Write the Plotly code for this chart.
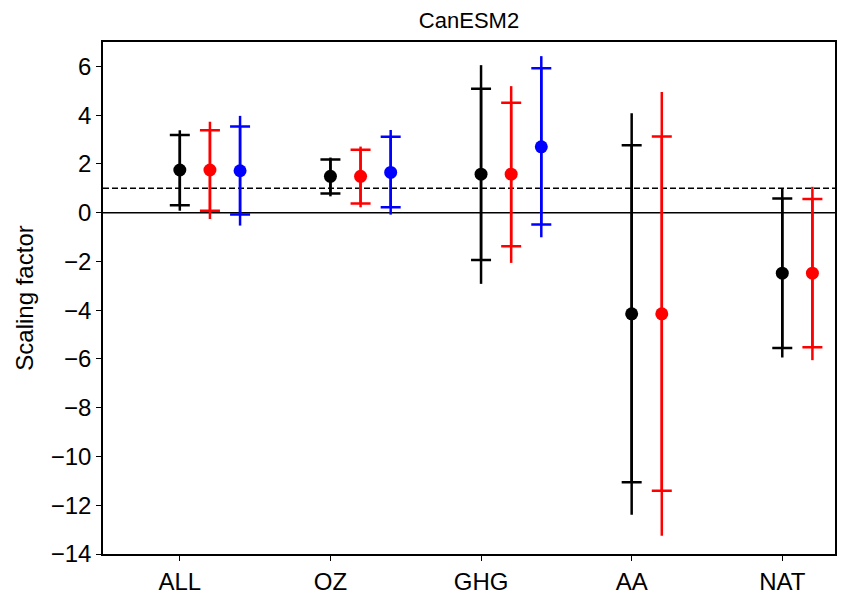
import plotly.graph_objects as go

categories = ["ALL", "OZ", "GHG", "AA", "NAT"]
colors = ["black", "red", "blue"]
offsets = [0.0, 0.2, 0.4]

# per series: best estimate, inner range (caps), outer range (line ends)
best = [
    [1.75, 1.49, 1.58, -4.15, -2.48],
    [1.75, 1.49, 1.58, -4.15, -2.48],
    [1.72, 1.65, 2.70, None, None],
]
inner_hi = [
    [3.19, 2.18, 5.08, 2.77, 0.58],
    [3.38, 2.58, 4.51, 3.12, 0.56],
    [3.53, 3.11, 5.92, None, None],
]
inner_lo = [
    [0.30, 0.79, -1.94, -11.06, -5.55],
    [0.08, 0.38, -1.38, -11.41, -5.52],
    [-0.08, 0.22, -0.49, None, None],
]
outer_hi = [
    [3.38, 2.26, 6.05, 4.08, 0.97],
    [3.73, 2.71, 5.19, 4.95, 1.06],
    [3.97, 3.39, 6.42, None, None],
]
outer_lo = [
    [0.08, 0.67, -2.92, -12.39, -5.94],
    [-0.26, 0.22, -2.06, -13.25, -6.05],
    [-0.53, -0.08, -1.01, None, None],
]

FONT = "Liberation Sans, Arial, sans-serif"

fig = go.Figure()
for s in range(3):
    xs, ys, ihp, ilm, ohp, olm = [], [], [], [], [], []
    for i in range(len(categories)):
        if best[s][i] is None:
            continue
        xs.append(i + offsets[s])
        ys.append(best[s][i])
        ihp.append(inner_hi[s][i] - best[s][i])
        ilm.append(best[s][i] - inner_lo[s][i])
        ohp.append(outer_hi[s][i] - best[s][i])
        olm.append(best[s][i] - outer_lo[s][i])
    c = colors[s]
    fig.add_trace(go.Scatter(
        x=xs, y=ys, mode="markers", marker=dict(size=0.1, color=c, opacity=0),
        error_y=dict(type="data", symmetric=False, array=ohp, arrayminus=olm,
                     color=c, thickness=2.5, width=0),
        showlegend=False, hoverinfo="skip"))
    fig.add_trace(go.Scatter(
        x=xs, y=ys, mode="markers", marker=dict(size=13, color=c),
        error_y=dict(type="data", symmetric=False, array=ihp, arrayminus=ilm,
                     color=c, thickness=2.5, width=10),
        showlegend=False))

fig.add_shape(type="line", xref="paper", yref="y", x0=0, x1=1, y0=0, y1=0,
              line=dict(color="black", width=1.5), layer="below")
fig.add_shape(type="line", xref="paper", yref="y", x0=0, x1=1, y0=1, y1=1,
              line=dict(color="black", width=1.5, dash="6px,3px"), layer="below")

fig.update_layout(
    width=847, height=594,
    margin=dict(l=103, r=12, t=42, b=40),
    paper_bgcolor="white", plot_bgcolor="white",
    font=dict(family=FONT, size=24, color="black"),
    title=dict(text="CanESM2", x=0.5, xanchor="center", xref="paper",
               y=1 - 20 / 594, yanchor="middle",
               font=dict(size=22, family=FONT, color="black")),
    xaxis=dict(range=[-0.51, 4.35], tickmode="array", tickvals=list(range(len(categories))),
               ticktext=categories, showgrid=False, zeroline=False, automargin=False,
               tickfont=dict(size=24, family=FONT, color="black"),
               showline=True, linecolor="black", linewidth=1.5, mirror=True,
               ticks="outside", ticklen=5, tickwidth=1.2, tickcolor="black"),
    yaxis=dict(range=[-14, 7], tickmode="array", tickvals=list(range(-14, 7, 2)),
               ticktext=[str(v).replace("-", "\u2212") for v in range(-14, 7, 2)],
               showgrid=False, zeroline=False, automargin=False,
               tickfont=dict(size=24, family=FONT, color="black"),
               showline=True, linecolor="black", linewidth=1.5, mirror=True,
               ticks="outside", ticklen=5, tickwidth=1.2, tickcolor="black",
               title=dict(text="Scaling factor", standoff=10,
                          font=dict(size=24, family=FONT, color="black"))),
)

fig.write_html("out.html")
